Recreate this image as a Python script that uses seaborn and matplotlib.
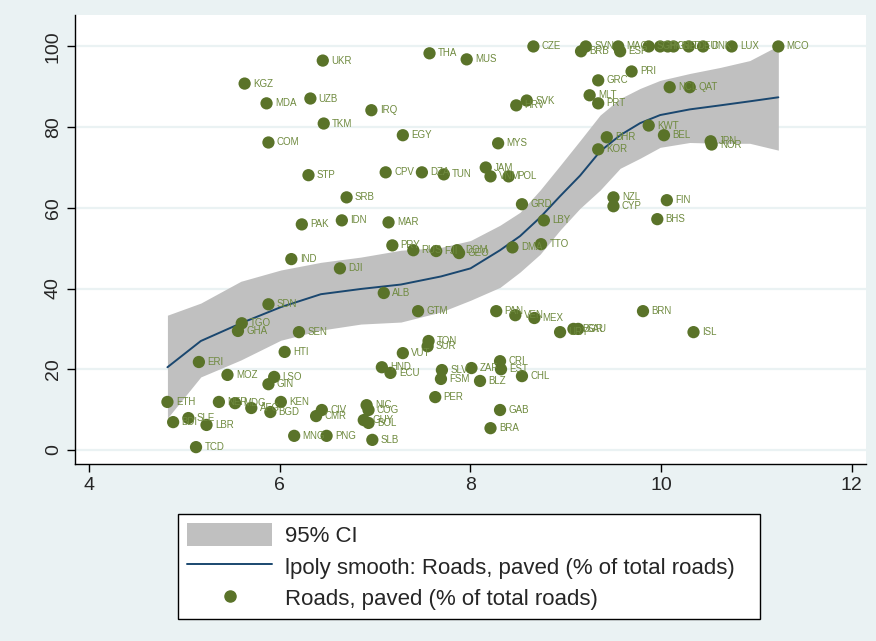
import matplotlib
matplotlib.use("Agg")
import matplotlib.pyplot as plt
import seaborn as sns
import pandas as pd
from matplotlib.patches import Patch
from matplotlib.lines import Line2D

codes = ["CZE","SVN","BRB","MAC","ESP","SGP","HKG","GBR","NLD","DEU","DNK","LUX","MCO",
         "THA","MUS","UKR","KGZ","MDA","UZB","IRQ","TKM","COM","EGY","STP","CPV","DZA","TUN",
         "JAM","VNM","POL","MYS","HRV","SVK","PRI","GRC","MLT","PRT","BHR","KOR","NCL","QAT",
         "KWT","BEL","JPN","NOR","GRD","LBY","SRB","IDN","PAK","MAR","PRY","RUS","FJI","DOM",
         "GEO","DMA","TTO","IND","DJI","ALB","SDN","TGO","GHA","SEN","HTI","ERI","MOZ","LSO",
         "GIN","ETH","NER","MDG","AFG","BGD","KEN","BDI","SLE","LBR","TCD","MNG","PNG","CIV",
         "CMR","NIC","COG","GUY","BOL","SLB","HND","ECU","VUT","TON","SUR","GTM","SLV","FSM",
         "ZAF","BLZ","CRI","EST","CHL","PER","GAB","BRA","PAN","VEN","MEX","URY","BGR","SAU",
         "BRN","ISL","NZL","CYP","FIN","BHS"]
log_gdp = [8.66,9.21,9.16,9.55,9.57,9.87,9.99,10.07,10.13,10.29,10.44,10.74,11.23,
           7.57,7.96,6.45,5.63,5.86,6.32,6.96,6.46,5.88,7.29,6.30,7.11,7.49,7.72,
           8.16,8.21,8.40,8.29,8.48,8.59,9.69,9.34,9.25,9.34,9.43,9.34,10.09,10.30,
           9.87,10.03,10.52,10.53,8.54,8.77,6.70,6.65,6.23,7.14,7.18,7.40,7.64,7.86,
           7.88,8.44,8.74,6.12,6.63,7.09,5.88,5.60,5.56,6.20,6.05,5.15,5.45,5.94,
           5.88,4.82,5.36,5.53,5.70,5.90,6.01,4.88,5.04,5.23,5.12,6.15,6.49,6.44,
           6.38,6.91,6.93,6.88,6.93,6.97,7.07,7.16,7.29,7.56,7.55,7.45,7.70,7.69,
           8.01,8.10,8.31,8.32,8.54,7.63,8.31,8.21,8.27,8.47,8.67,8.94,9.08,9.13,
           9.81,10.34,9.50,9.50,10.06,9.96]
paved = [100,100,98.8,100,98.8,100,100,100,100,100,100,100,100,
         98.3,96.8,96.5,90.8,85.9,87.1,84.2,80.9,76.2,78.0,68.1,68.8,68.8,68.3,
         70.0,67.8,67.8,76.0,85.4,86.6,93.8,91.6,87.9,85.9,77.5,74.5,89.9,89.9,
         80.4,78.0,76.5,75.7,60.9,56.9,62.6,56.9,55.9,56.4,50.7,49.5,49.3,49.5,
         48.8,50.2,51.0,47.3,45.0,38.9,36.1,31.4,29.5,29.2,24.3,21.8,18.6,18.1,
         16.3,11.9,11.9,11.6,10.4,9.4,11.9,6.9,7.9,6.2,0.7,3.5,3.5,9.9,
         8.4,11.1,9.9,7.4,6.7,2.5,20.5,19.1,24.0,27.0,25.7,34.4,19.8,17.6,
         20.3,17.1,22.0,20.0,18.3,13.1,9.9,5.4,34.4,33.4,32.7,29.2,30.0,30.0,
         34.4,29.2,62.6,60.4,61.9,57.2]

smooth_x = [4.82,5.17,5.59,6.01,6.43,6.85,7.27,7.69,8.00,8.31,8.52,8.73,8.94,9.15,
            9.36,9.57,9.78,9.99,10.30,10.62,10.93,11.23]
smooth_y = [20.5,27.0,31.4,35.4,38.6,39.9,41.0,43.0,45.0,49.5,53.0,57.6,62.9,68.0,
            74.0,78.0,81.0,83.0,84.4,85.4,86.4,87.4]
ci_hi = [33.4,36.4,41.8,44.6,46.5,47.8,49.5,50.2,51.9,55.7,58.9,64.4,70.5,76.7,
         83.0,87.1,89.6,91.6,93.3,94.8,96.5,100.2]
ci_lo = [7.9,18.1,22.3,27.2,29.7,31.2,31.7,34.2,37.1,40.3,44.1,48.5,54.5,59.9,
         64.4,69.8,72.3,75.0,76.2,76.0,76.0,74.3]

x_ticks = [4, 6, 8, 10, 12]
y_ticks = [0, 20, 40, 60, 80, 100]

BG = "#EAF2F3"
DOT = "#5A7329"
LBL = "#6F8A3F"
NAVY = "#1A476F"
CIC = "#C0C0C0"

sns.set_theme(style="white")
plt.rcParams["font.family"] = ["Liberation Sans", "DejaVu Sans"]

fig = plt.figure(figsize=(8.76, 6.41), dpi=100, facecolor=BG)
ax = fig.add_axes([0.0856, 0.276, 0.903, 0.700])
ax.set_facecolor("white")

pts = pd.DataFrame({"x": log_gdp, "y": paved, "code": codes})
sm = pd.DataFrame({"x": smooth_x, "y": smooth_y})

for t in y_ticks:
    ax.axhline(t, color=BG, lw=1.6, zorder=0)

ax.fill_between(smooth_x, ci_lo, ci_hi, color=CIC, lw=0, zorder=1)
sns.lineplot(data=sm, x="x", y="y", ax=ax, color=NAVY, lw=1.4, zorder=2)
sns.scatterplot(data=pts, x="x", y="y", ax=ax, color=DOT, s=78, edgecolor="none", zorder=3)
for xx, yy, c in zip(log_gdp, paved, codes):
    ax.annotate(c, (xx, yy), xytext=(6, 0), textcoords="offset points",
                va="center", ha="left", fontsize=7, color=LBL, zorder=4)

ax.set_xlim(3.85, 12.15)
ax.set_ylim(-3.5, 107.7)
ax.set_xticks(x_ticks)
ax.set_yticks(y_ticks)
ax.set_xticklabels([str(v) for v in x_ticks], fontsize=14)
ax.set_yticklabels([str(v) for v in y_ticks], fontsize=14, rotation=90, va="center")
ax.tick_params(axis="both", direction="out", length=6, width=1, color="black", bottom=True, left=True)
ax.set_xlabel("")
ax.set_ylabel("")
for s in ["top", "right"]:
    ax.spines[s].set_visible(False)
for s in ["left", "bottom"]:
    ax.spines[s].set_color("black")
    ax.spines[s].set_linewidth(1)

handles = [Patch(facecolor=CIC, edgecolor="none"),
           Line2D([], [], color=NAVY, lw=1.4),
           Line2D([], [], marker="o", color=DOT, ls="none", markersize=8)]
labels = ["95% CI", "lpoly smooth: Roads, paved (% of total roads)", "Roads, paved (% of total roads)"]
leg = fig.legend(handles, labels, loc="upper left",
                 bbox_to_anchor=(178 / 876, 1 - 618 / 641, 582 / 876, 104 / 641),
                 mode="expand", fontsize=16, frameon=True, fancybox=False, framealpha=1,
                 handlelength=3.8, handleheight=1.2, borderpad=0.42, borderaxespad=0,
                 labelspacing=0.34, handletextpad=0.6)
leg.get_frame().set_edgecolor("black")
leg.get_frame().set_facecolor("white")
leg.get_frame().set_linewidth(1)

fig.savefig("out.png", dpi=100, facecolor=BG)
